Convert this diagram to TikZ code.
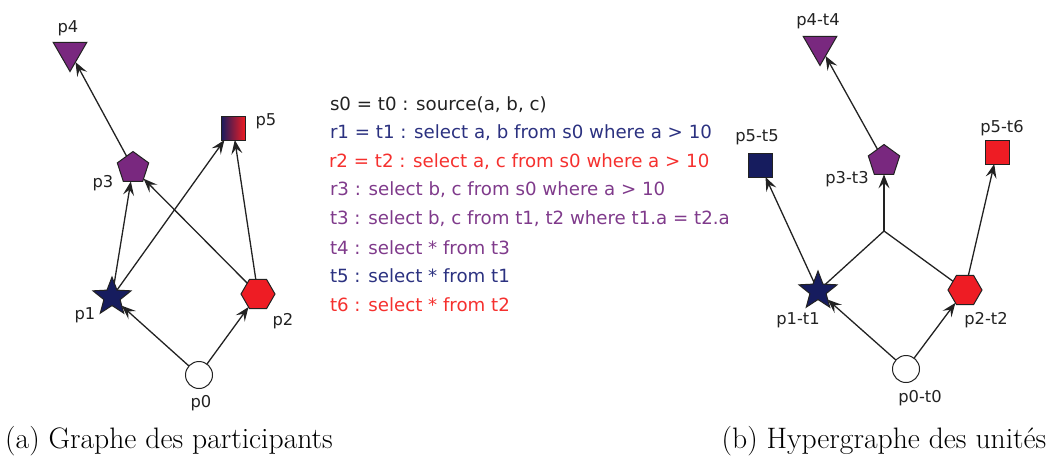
\documentclass[tikz,border=0pt]{standalone}
\usepackage{fontspec}
\newfontfamily\dvsans{DejaVu Sans}
\usetikzlibrary{shapes.geometric,arrows.meta}
\definecolor{navy}{HTML}{161C5E}
\definecolor{plum}{HTML}{79287F}
\definecolor{scarlet}{HTML}{EE1C24}
\definecolor{navytext}{HTML}{2B3180}
\definecolor{redtext}{HTML}{F5302E}
\definecolor{plumtext}{HTML}{7F3A8B}
\definecolor{edgegray}{HTML}{222222}
\begin{document}
\begin{tikzpicture}[x=1pt,y=-1pt,
  every node/.style={inner sep=0pt,outer sep=0pt},
  vtx/.style={draw=edgegray,line width=1pt},
  srcnode/.style={vtx,circle,fill=white,minimum size=27pt},
  starnode/.style={vtx,star,star points=5,star point ratio=2.35,fill=navy,minimum size=40pt},
  pentnode/.style={vtx,regular polygon,regular polygon sides=5,fill=plum,minimum size=33pt},
  hexnode/.style={vtx,regular polygon,regular polygon sides=6,fill=scarlet,minimum size=34pt},
  trinode/.style={vtx,regular polygon,regular polygon sides=3,shape border rotate=180,fill=plum,minimum size=39pt},
  sqnode/.style={vtx,rectangle,minimum size=24pt},
  lbl/.style={font=\dvsans\fontsize{16.3}{19}\selectfont,text=edgegray},
  qline/.style={font=\dvsans\fontsize{18.2}{21}\selectfont,anchor=west},
  edge/.style={draw=edgegray,line width=1.3pt,-{Stealth[length=14pt,width=11pt,inset=5.5pt]}},
  plain/.style={draw=edgegray,line width=1.3pt},
  caption/.style={font=\fontsize{29.6}{35}\selectfont}]
\useasboundingbox (0,0) rectangle (1058,459);

% ---- (a) participants graph ----
\node[trinode] (p4) at (70,52) {};
\node[sqnode,left color=navy,right color=scarlet] (p5) at (233,128) {};
\node[pentnode] (p3) at (133,168) {};
\node[starnode] (p1) at (112,297) {};
\node[hexnode] (p2) at (258,294) {};
\node[srcnode] (p0) at (199,375) {};

\node[lbl] (p4l) at (68,28) {p4};
\node[lbl] (p5l) at (266,121) {p5};
\node[lbl] (p3l) at (103,183) {p3};
\node[lbl] (p1l) at (85,315) {p1};
\node[lbl] (p2l) at (283,321) {p2};
\node[lbl] (p0l) at (201,403) {p0};

\draw[edge] (p0) -- (p1);
\draw[edge] (p0) -- (p2);
\draw[edge] (p1) -- (p3);
\draw[edge] (p1) -- (p5);
\draw[edge] (p2) -- (p3);
\draw[edge] (p2) -- (p5);
\draw[edge] (p3) -- (p4);

% ---- query listing ----
\node[qline,text=edgegray] (q0) at (330,105) {s0 = t0 : source(a, b, c)};
\node[qline,text=navytext] (q1) at (330,133) {r1 = t1 : select a, b from s0 where a > 10};
\node[qline,text=redtext] (q2) at (329,162) {r2 = t2 : select a, c from s0 where a > 10};
\node[qline,text=plumtext] (q3) at (330,190) {r3 : select b, c from s0 where a > 10};
\node[qline,text=plumtext] (q4) at (330,219) {t3 : select b, c from t1, t2 where t1.a = t2.a};
\node[qline,text=plumtext] (q5) at (330,248) {t4 : select * from t3};
\node[qline,text=navytext] (q6) at (330,276) {t5 : select * from t1};
\node[qline,text=redtext] (q7) at (330,305) {t6 : select * from t2};

% ---- (b) units hypergraph ----
\node[trinode] (u4) at (820,46) {};
\node[sqnode,fill=navy] (u5) at (760,165) {};
\node[pentnode] (u3) at (884,161) {};
\node[sqnode,fill=scarlet] (u6) at (997,152) {};
\node[starnode] (u1) at (818,291) {};
\node[hexnode] (u2) at (965,290) {};
\node[srcnode] (u0) at (906,369) {};
\coordinate (hj) at (884,231);

\node[lbl] (u4l) at (818,21) {p4-t4};
\node[lbl] (u5l) at (757,137) {p5-t5};
\node[lbl] (u3l) at (847,179) {p3-t3};
\node[lbl] (u6l) at (1002,128) {p5-t6};
\node[lbl] (u1l) at (798,320) {p1-t1};
\node[lbl] (u2l) at (986,320) {p2-t2};
\node[lbl] (u0l) at (920,398) {p0-t0};

\draw[edge] (u0) -- (u1);
\draw[edge] (u0) -- (u2);
\draw[edge] (u1) -- (u5);
\draw[edge] (u2) -- (u6);
\draw[plain] (u1) -- (hj) -- (u2);
\draw[edge] (hj) -- (u3);
\draw[edge] (u3) -- (u4);

% ---- captions ----
\node[caption] (capa) at (169,441) {(a) Graphe des participants};
\node[caption] (capb) at (884,441) {(b) Hypergraphe des unités};
\end{tikzpicture}
\end{document}
